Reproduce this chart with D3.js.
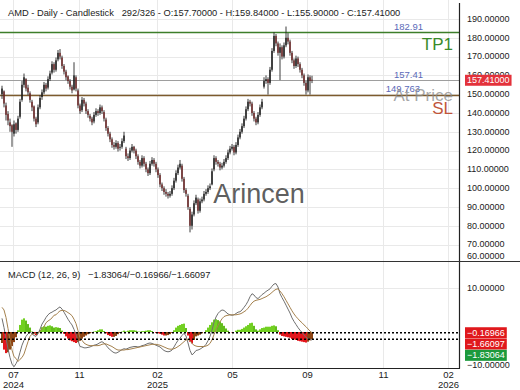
<!DOCTYPE html>
<html>
<head>
<meta charset="utf-8">
<script src="https://cdn.jsdelivr.net/npm/d3@7"></script>
<style>
  body { margin: 0; background: #fff; }
  svg { display: block; font-family: "Liberation Sans", Arial, sans-serif; }
</style>
</head>
<body>
<svg id="chart" width="520" height="390"></svg>
<script>
// daily candles (one per ~2 trading days)
var opens = [150,151.5,144,139.5,135,133.5,129,134.5,131,138,
  147,155,158,153.5,150.5,146,143.5,137,135,143,
  148.5,151,155,153.5,158,161.5,166,163,168.5,172,
  169.5,165,162,159.5,157,154,152.5,159,152,144,
  141.5,147,145,141,138.5,137,135.5,139,141,140,
  143,140.5,136.5,132,129,126,123,122,124,121.5,
  122,125,121,117,116,120,122,120,117,114,
  112,116,113,110,108,113,115,113,110,107,
  102,100,98,97,96,97,100,104,108,111,
  112,105,99,96,89,80,86,92,94,88,
  93,94,97,98,100,102,110,116,114,113,
  111,112,114,116,119,121,122,119,123,127,
  130,133,137,142,146,145,140,137,135,139,
  143,154,157,158,156,163,173,181,177,172,
  175,170,176,180,178,172,168,165,169,166,
  163,160,156,152,159,157.7];
var highs = [154.5,152,145.5,141,137,134,136,135,138.5,147.5,
  157,161,158.5,155,151.5,147,144,138,144.5,149.5,
  152.5,156.5,156,159.5,162.5,167.5,167,169.5,173.5,174,
  170.5,166,163,160,158,155,167,160,153,145,
  148.5,148,146,142,139.5,138,140.5,142.5,142,144.5,
  144,141.5,137.5,133,130,127,124.5,125.5,125,123.5,
  126.5,130,122,118.5,121.5,123.5,122.5,121,118,115,
  117.5,117,114,111,114.5,116.5,116,114,111,108,
  103,101,99.5,98,98.5,101.5,105.5,109.5,112.5,115,
  113,106,100,97,90,87.5,93.5,96.5,95,94.5,
  95.5,98.5,99.5,101.5,102.5,110.5,117.5,117,115,114,
  113.5,115.5,117.5,120.5,122.5,123.5,123,124.5,128.5,131.5,
  134.5,138.5,143.5,147.5,147,146,141,138,140.5,144.5,
  147.5,159,160,159,164.5,174.5,183,182,178,177,
  176,177.5,186,182.5,179,173,169,170.5,170,167,
  164,161,157,160.5,160,159.84];
var lows = [147.5,143,136,133.5,130,122,127.5,129,130,137,
  146,153.5,151.5,149.5,145.5,141,135.5,132.5,134,142,
  147,150,151.5,152.5,157,160.5,161.5,162,167.5,168.5,
  163.5,160.5,157.5,155.5,152.5,150.5,152,151.5,142.5,139.5,
  140.5,143.5,139.5,137.5,135.5,133.5,134.5,138,138.5,139,
  139.5,135.5,130.5,127.5,124.5,121.5,120.5,121,119.5,120,
  121,124,115.5,114.5,115,119,118.5,115.5,112.5,110.5,
  111,111.5,108.5,106.5,107,112,111.5,108.5,105.5,100.5,
  98.5,96.5,95.5,94.5,95,96,99,103,107,110,
  103.5,97.5,95.5,88.5,76.5,78,85,91,86.5,87,
  92,93,96,97,99,101.5,109,112.5,111.5,109.5,
  110,111,113,115,118,120,117.5,118,122,126,
  129,132,136,141,143.5,138.5,135.5,133.5,134,138,
  142,153,155.5,149.8,155,162,172,175.5,170.5,157.5,
  168.5,169,175,176.5,170.5,166.5,163.5,164,164.5,161.5,
  158.5,154.5,149.8,151,149.8,155.9];
var closes = [153,145,139,136,133,130,134,131,137,146,
  155,159,153,151,147,143,137,134,143,148,
  151,155,153,158,161,166,163,168,172,170,
  165,162,159,157,154,152,160,153,144,141,
  147,145,141,139,137,135,139,141,140,143,
  141,137,132,129,126,123,122,124,121,122,
  125,128,117,116,120,122,120,117,114,112,
  116,113,110,108,113,115,113,110,107,102,
  100,98,97,96,97,100,104,108,111,113,
  105,99,97,90,80,86,92,95,88,93,
  94,97,98,100,101,109,116,114,113,111,
  112,114,116,119,121,122,119,123,127,130,
  133,137,142,146,145,140,137,135,139,143,
  146,157,158,156,163,173,181,177,172,175,
  170,176,180,178,172,168,165,169,166,163,
  160,156,152,159,157,157.41];

// MACD (12, 26, 9)
var macdLine = [3.1,1.0,-1.5,-3.8,-5.8,-7.3,-7.9,-7.2,-6.3,-4.6,
  -3.0,-1.9,-1.0,-0.4,0.0,-0.4,-0.8,-1.0,-0.4,0.6,
  1.8,2.5,3.3,3.9,4.3,4.5,4.8,5.0,5.4,5.7,
  5.2,4.5,3.7,2.9,2.2,1.6,0.6,-0.6,-2.0,-3.3,
  -3.4,-3.6,-3.6,-3.5,-3.4,-3.2,-3.0,-2.9,-2.7,-2.4,
  -2.2,-2.5,-3.0,-3.6,-4.0,-4.4,-4.7,-4.8,-4.6,-4.3,
  -4.0,-3.8,-3.9,-3.7,-3.5,-3.4,-3.3,-3.3,-3.4,-3.3,
  -3.1,-3.0,-2.8,-2.6,-2.5,-2.6,-2.8,-3.0,-3.2,-3.4,
  -3.8,-4.2,-4.4,-4.5,-4.4,-4.1,-3.4,-2.6,-1.9,-1.4,
  -0.8,-0.3,-0.9,-2.5,-4.2,-5.2,-4.8,-4.2,-4.1,-3.9,
  -3.6,-3.3,-2.8,-2.0,-1.0,0.4,2.2,3.4,4.2,4.7,
  5.0,4.9,4.5,4.1,3.9,3.8,3.9,4.2,4.5,4.6,
  5.0,5.6,6.2,7.0,8.0,8.7,8.4,7.8,7.6,8.0,
  8.5,8.8,9.2,9.5,9.8,10.4,10.9,11.0,10.2,8.7,
  7.8,7.0,6.1,5.2,4.3,3.2,2.4,1.7,1.0,0.4,
  -0.1,-0.7,-1.2,-1.5,-1.7,-1.83064];
var signalLine = [5.6,5.0,3.3,0.8,-1.8,-4.1,-5.6,-6.0,-6.7,-6.2,
  -5.8,-5.0,-3.6,-2.2,-1.0,-0.5,-0.3,-0.3,-0.2,0.1,
  0.7,1.2,2.1,2.5,2.8,3.2,3.8,3.9,4.4,4.8,
  4.9,4.9,4.7,4.4,4.1,3.7,2.9,1.9,0.3,-1.3,
  -1.9,-2.5,-2.8,-3.0,-3.1,-3.1,-3.1,-3.1,-3.1,-3.0,
  -2.8,-2.7,-2.7,-2.9,-3.1,-3.3,-3.6,-3.9,-4.1,-4.1,
  -4.1,-4.1,-4.0,-4.0,-3.9,-3.8,-3.7,-3.6,-3.5,-3.4,
  -3.3,-3.2,-3.1,-3.0,-2.9,-2.8,-2.8,-2.8,-2.9,-3.0,
  -3.2,-3.4,-3.6,-3.8,-3.9,-3.9,-3.8,-3.6,-3.3,-3.0,
  -2.6,-2.2,-1.8,-1.7,-2.0,-2.6,-3.0,-3.2,-3.3,-3.3,
  -3.3,-3.3,-3.2,-3.0,-2.6,-1.8,-0.6,0.5,1.5,2.3,
  3.0,3.5,3.7,3.8,3.9,3.9,3.9,3.9,4.0,4.1,
  4.3,4.6,4.9,5.4,6.0,6.6,7.0,7.2,7.3,7.4,
  7.6,7.8,8.0,8.3,8.6,9.0,9.4,9.7,9.8,9.3,
  8.7,8.0,7.2,6.4,5.6,4.8,4.1,3.5,3.0,2.5,
  2.1,1.6,1.2,0.7,0.2,-0.16966];
var histogram = [-2.5,-4.0,-4.8,-4.6,-4.0,-3.2,-2.3,-1.2,0.4,1.6,
  2.8,3.1,2.6,1.8,1.0,0.1,-0.5,-0.7,-0.2,0.5,
  1.1,1.3,1.2,1.4,1.5,1.3,1.0,1.1,1.0,0.9,
  0.3,-0.4,-1.0,-1.5,-1.9,-2.1,-2.3,-2.5,-2.3,-2.0,
  -1.5,-1.1,-0.8,-0.5,-0.3,-0.1,0.1,0.2,0.4,0.6,
  0.6,0.2,-0.3,-0.7,-0.9,-1.1,-1.1,-0.9,-0.5,-0.2,
  0.1,0.3,0.1,0.3,0.4,0.4,0.4,0.3,0.1,0.1,
  0.2,0.2,0.3,0.4,0.4,0.2,0.0,-0.2,-0.3,-0.4,
  -0.6,-0.8,-0.8,-0.7,-0.5,-0.2,0.4,1.0,1.4,1.6,
  1.8,1.9,0.9,-0.8,-2.2,-2.6,-1.8,-1.0,-0.8,-0.6,
  -0.3,0.0,0.4,1.0,1.6,2.2,2.8,2.9,2.7,2.4,
  2.0,1.4,0.8,0.3,0.0,-0.1,0.0,0.3,0.5,0.5,
  0.7,1.0,1.3,1.6,2.0,2.1,1.4,0.6,0.3,0.6,
  0.9,1.0,1.2,1.2,1.2,1.4,1.5,1.3,0.4,-0.6,
  -0.9,-1.0,-1.1,-1.2,-1.3,-1.6,-1.7,-1.8,-2.0,-2.1,
  -2.2,-2.3,-2.4,-2.2,-1.9,-1.66097];

var priceTicks = [190,180,170,160,150,140,130,120,110,100,90,80,70,60];
var macdTicks = [10,-10];
var monthTickBars = [5.5,38.5,77.5,115,152.5,190.5,223];
var monthLabels = ["07","11","02","05","09","11","02"];
var yearLabels = ["2024","","2025","","","","2026"];
var levelValues = [182.91,157.41,149.763];
var levelTags = ["TP1","","SL"];

var svg = d3.select("#chart");
var plotRight = 459, mainBottom = 261, macdBottom = 368;
var fmt5 = d3.format(".5f");

var x = d3.scaleLinear().domain([0, 229]).range([2, 460]);
var y = d3.scaleLinear().domain([61.8, 190]).range([260, 19]);
var ym = d3.scaleLinear().domain([-8.18, 15.9]).range([368, 262]);

svg.append("rect").attr("width", 520).attr("height", 390).attr("fill", "#fff");

svg.append("clipPath").attr("id", "clipMain")
  .append("rect").attr("x", 0).attr("y", 0).attr("width", plotRight).attr("height", mainBottom);
svg.append("clipPath").attr("id", "clipMacd")
  .append("rect").attr("x", 0).attr("y", mainBottom + 1).attr("width", plotRight).attr("height", macdBottom - mainBottom - 1);

// grid
var grid = svg.append("g").attr("stroke", "#e9e9e9").attr("stroke-width", 1);
grid.selectAll(".hg").data(priceTicks.filter(function (d) { return y(d) < mainBottom; }))
  .enter().append("line")
  .attr("x1", 0).attr("x2", plotRight)
  .attr("y1", function (d) { return Math.round(y(d)) + 0.5; })
  .attr("y2", function (d) { return Math.round(y(d)) + 0.5; });
grid.selectAll(".vg").data(monthTickBars).enter().append("line")
  .attr("y1", 0).attr("y2", macdBottom)
  .attr("x1", function (d) { return Math.round(x(d)) + 0.5; })
  .attr("x2", function (d) { return Math.round(x(d)) + 0.5; });
grid.selectAll(".mg").data(macdTicks.filter(function (d) { return ym(d) < macdBottom; }))
  .enter().append("line")
  .attr("x1", 0).attr("x2", plotRight)
  .attr("y1", function (d) { return Math.round(ym(d)) + 0.5; })
  .attr("y2", function (d) { return Math.round(ym(d)) + 0.5; });

// level lines
var levelColors = ["#3d7e2a", "#9e9e9e", "#7d5b2e"];
svg.selectAll(".lvl").data(levelValues).enter().append("line")
  .attr("x1", 0).attr("x2", plotRight)
  .attr("y1", function (d) { return Math.round(y(d)) + 0.5; })
  .attr("y2", function (d) { return Math.round(y(d)) + 0.5; })
  .attr("stroke", function (d, i) { return levelColors[i]; })
  .attr("stroke-width", function (d, i) { return i === 1 ? 1 : 1.3; });

// candles
var candles = svg.append("g").attr("clip-path", "url(#clipMain)")
  .selectAll("g").data(closes).enter().append("g");
candles.append("line")
  .attr("x1", function (d, i) { return x(i); })
  .attr("x2", function (d, i) { return x(i); })
  .attr("y1", function (d, i) { return y(highs[i]); })
  .attr("y2", function (d, i) { return y(lows[i]); })
  .attr("stroke", "#262626").attr("stroke-width", 0.9);
candles.append("rect")
  .attr("x", function (d, i) { return x(i) - 0.7; })
  .attr("width", 1.4)
  .attr("y", function (d, i) { return y(Math.max(opens[i], d)); })
  .attr("height", function (d, i) { return Math.max(0.8, Math.abs(y(opens[i]) - y(d))); })
  .attr("fill", function (d, i) { return d >= opens[i] ? "#1a1a1a" : "#6e2222"; });

// watermark
svg.append("text").attr("x", 259).attr("y", 203).attr("text-anchor", "middle")
  .attr("font-size", 27).attr("fill", "#4a4a4a").attr("fill-opacity", 0.9).text("Arincen");

// level labels
svg.selectAll(".lvlv").data(levelValues).enter().append("text")
  .attr("x", function (d, i) { return i === 2 ? 420 : 423; })
  .attr("y", function (d) { return y(d) - 2.5; })
  .attr("text-anchor", "end").attr("font-size", 9.5).attr("fill", "#5b6ab8")
  .text(function (d) { return d3.format("")(d); });
svg.append("text").attr("x", 453).attr("y", y(levelValues[2]) + 6.5)
  .attr("text-anchor", "end").attr("font-size", 17).attr("fill", "#8a8a8a").attr("fill-opacity", 0.75)
  .text("At Price");
svg.selectAll(".lvlt").data(levelValues).enter().append("text")
  .attr("x", 453)
  .attr("y", function (d, i) { return y(d) + [18, 0, 19][i]; })
  .attr("text-anchor", "end").attr("font-size", 17)
  .attr("fill", function (d, i) { return ["#3a8a2a", "#8a8a8a", "#c0553a"][i]; })
  .text(function (d, i) { return levelTags[i]; });

// MACD histogram
var macdG = svg.append("g").attr("clip-path", "url(#clipMacd)");
macdG.selectAll("rect").data(histogram).enter().append("rect")
  .attr("x", function (d, i) { return x(i) - 1; })
  .attr("width", 2)
  .attr("y", function (d) { return Math.min(ym(d), ym(0)); })
  .attr("height", function (d) { return Math.abs(ym(d) - ym(0)); })
  .attr("fill", function (d, i) {
    var prev = i > 0 ? histogram[i - 1] : d;
    if (d >= 0) return d >= prev ? "#72d022" : "#62bd1c";
    return d < prev ? "#e3161c" : "#8e4414";
  });
var lineGen = function (arr) {
  return d3.line().x(function (d, i) { return x(i); }).y(function (d) { return ym(d); })(arr);
};
macdG.append("path").attr("d", lineGen(macdLine)).attr("fill", "none")
  .attr("stroke", "#707070").attr("stroke-width", 1);
macdG.append("path").attr("d", lineGen(signalLine)).attr("fill", "none")
  .attr("stroke", "#a5824f").attr("stroke-width", 1);
var lastSig = signalLine[signalLine.length - 1], lastHist = histogram[histogram.length - 1], lastMacd = macdLine[macdLine.length - 1];
svg.selectAll(".dot").data([lastSig, lastHist]).enter().append("line")
  .attr("x1", 0).attr("x2", plotRight)
  .attr("y1", function (d) { return ym(d); }).attr("y2", function (d) { return ym(d); })
  .attr("stroke", "#000").attr("stroke-width", 1.6).attr("stroke-dasharray", "2,2");

// frame
svg.append("line").attr("x1", plotRight + 0.5).attr("x2", plotRight + 0.5).attr("y1", 3).attr("y2", macdBottom + 0.5)
  .attr("stroke", "#222").attr("stroke-width", 1.2);
svg.append("line").attr("x1", 0).attr("x2", 520).attr("y1", mainBottom + 0.5).attr("y2", mainBottom + 0.5)
  .attr("stroke", "#333").attr("stroke-width", 1.2);
svg.append("line").attr("x1", 0).attr("x2", plotRight + 1).attr("y1", macdBottom + 0.5).attr("y2", macdBottom + 0.5)
  .attr("stroke", "#222").attr("stroke-width", 1.2);

// price axis
var priceAxis = svg.append("g").attr("transform", "translate(" + plotRight + ",0)")
  .call(d3.axisRight(y).tickValues(priceTicks).tickFormat(fmt5).tickSize(0).tickPadding(8));
priceAxis.select(".domain").remove();
priceAxis.selectAll(".tick").attr("transform", function (d) { return "translate(0," + Math.min(y(d), 256) + ")"; });
priceAxis.selectAll("text").attr("font-size", 9).attr("font-family", "Liberation Sans, Arial, sans-serif").attr("fill", "#222");

var macdAxis = svg.append("g").attr("transform", "translate(" + plotRight + ",0)")
  .call(d3.axisRight(ym).tickValues(macdTicks).tickFormat(fmt5).tickSize(0).tickPadding(8));
macdAxis.select(".domain").remove();
macdAxis.selectAll(".tick").attr("transform", function (d) { return "translate(0," + Math.min(ym(d), 365) + ")"; });
macdAxis.selectAll("text").attr("font-size", 9).attr("font-family", "Liberation Sans, Arial, sans-serif").attr("fill", "#222");

// value boxes
function valueBox(cy, fill, label) {
  var g = svg.append("g").attr("transform", "translate(465," + cy + ")");
  var r = g.append("rect").attr("x", 0).attr("y", -5.5).attr("height", 11).attr("fill", fill);
  var t = g.append("text").attr("x", 2).attr("y", 0).attr("dy", "0.34em").attr("font-size", 9).attr("fill", "#fff").text(label);
  r.attr("width", t.node().getComputedTextLength() + 4);
}
var lastClose = closes[closes.length - 1];
valueBox(y(lastClose), "#e3323b", fmt5(lastClose));
var c1 = ym(lastSig), c2 = Math.max(ym(lastHist), c1 + 11.3), c3 = Math.max(ym(lastMacd), c2 + 11.3);
valueBox(c1, "#e0181c", fmt5(lastSig));
valueBox(c2, "#e0181c", fmt5(lastHist));
valueBox(c3, "#1d9a3c", fmt5(lastMacd));

// time axis
var timeAxis = svg.append("g").attr("transform", "translate(0," + macdBottom + ")")
  .call(d3.axisBottom(x).tickValues(monthTickBars).tickSize(0).tickPadding(3)
    .tickFormat(function (d, i) { return monthLabels[i]; }));
timeAxis.select(".domain").remove();
timeAxis.selectAll("text").attr("font-size", 9.5).attr("fill", "#222")
  .attr("font-family", "Liberation Sans, Arial, sans-serif");
timeAxis.selectAll(".tick").append("text").attr("y", 13).attr("dy", "0.71em").attr("font-size", 9.5)
  .attr("fill", "#222").attr("text-anchor", "middle").attr("font-family", "Liberation Sans, Arial, sans-serif")
  .text(function (d, i) { return yearLabels[i]; });

// titles
svg.append("text").attr("x", 8).attr("y", 15.5).attr("font-size", 9.3).attr("fill", "#222")
  .style("white-space", "pre")
  .text("AMD - Daily - Candlestick   292/326 - O:157.70000 - H:159.84000 - L:155.90000 - C:157.41000");
svg.append("text").attr("x", 8).attr("y", 277.5).attr("font-size", 9.3).attr("fill", "#222")
  .style("white-space", "pre")
  .text("MACD (12, 26, 9)   " + fmt5(lastMacd) + "/" + fmt5(lastSig) + "/" + fmt5(lastHist));
</script>
</body>
</html>
